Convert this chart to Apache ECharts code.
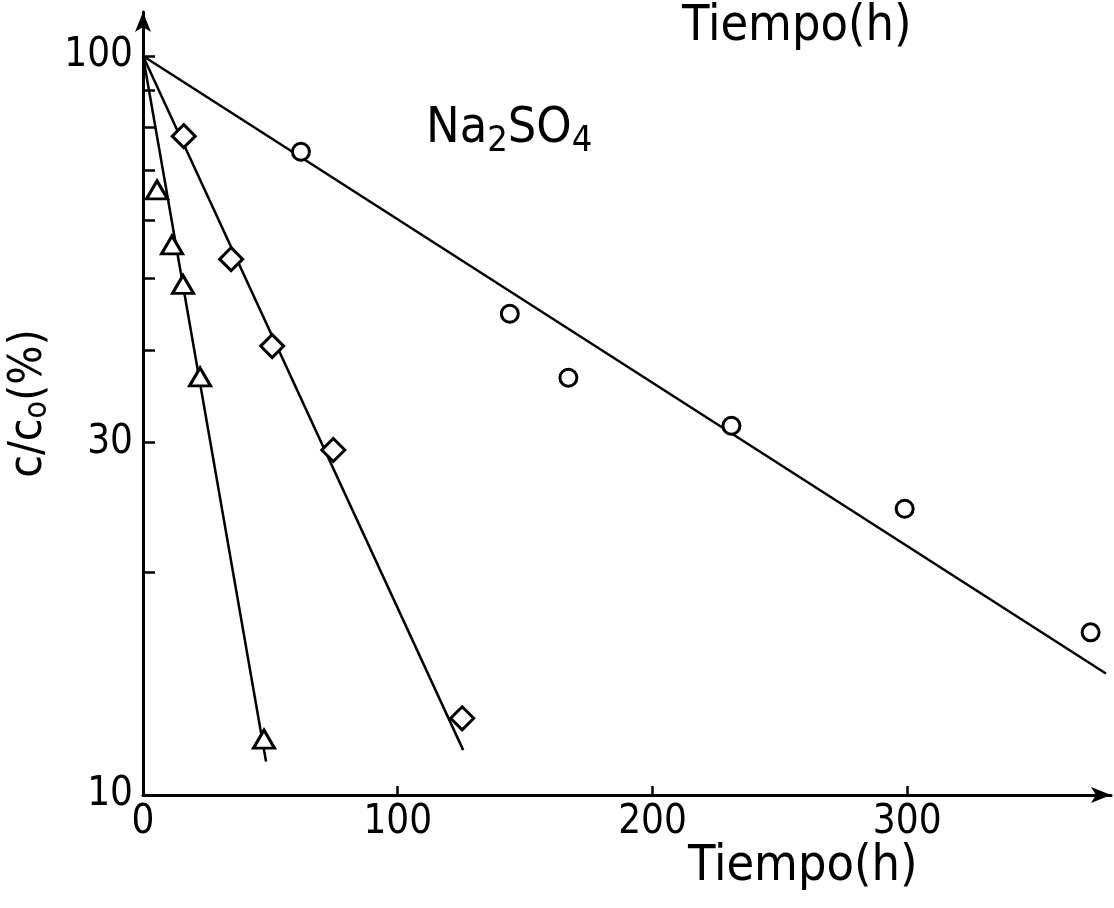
<!DOCTYPE html>
<html>
<head>
<meta charset="utf-8">
<script src="https://cdn.jsdelivr.net/npm/echarts@6/dist/echarts.min.js"></script>
<style>
html,body{margin:0;padding:0;background:#fff;}
#chart{width:1114px;height:908px;}
</style>
</head>
<body>
<div id="chart"></div>
<script>
// ---- data ----
const circleTime = [62, 144, 167, 231, 299, 372];
const circleConc = [74.2, 44.8, 36.7, 31.6, 24.4, 16.6];
const diamondTime = [16, 34.6, 50.7, 74.7, 125.3];
const diamondConc = [77.9, 53.1, 40.5, 29.3, 12.7];
const triangleTime = [5.5, 11.4, 15.7, 22.4, 47.5];
const triangleConc = [65.9, 55.5, 49.1, 36.8, 11.9];
const circleFit = [[0, 100], [378, 14.6]];
const diamondFit = [[0, 100], [125.7, 11.5]];
const triangleFit = [[0, 100], [48.3, 11.1]];
const xTickValues = [100, 200, 300];
const xLabelValues = [0, 100, 200, 300];
const yTickValues = [10, 20, 30, 40, 50, 60, 70, 80, 90, 100];
const yLabelValues = [10, 30, 100];

const FONT = "'DejaVu Sans Condensed', 'Liberation Sans', sans-serif";
const zip = (a, b) => a.map((v, i) => [v, b[i]]);

const chart = echarts.init(document.getElementById('chart'));
const fitLine = (d) => ({
  type: 'line', data: d, symbol: 'none', silent: true,
  lineStyle: { color: '#000', width: 2.5 }, z: 2
});
const markerStyle = { color: '#fff', borderColor: '#000', borderWidth: 3, opacity: 1 };

chart.setOption({
  animation: false,
  backgroundColor: '#fff',
  grid: { left: 143, right: 3, top: 12, bottom: 113, containLabel: false, outerBoundsMode: 'none' },
  xAxis: {
    type: 'value', min: 0, max: 380,
    axisLine: { lineStyle: { color: '#000', width: 3 }, symbol: ['none', 'arrow'], symbolSize: [12, 20] },
    axisTick: { inside: true, length: 9, lineStyle: { color: '#000', width: 2.5 }, customValues: xTickValues },
    axisLabel: { customValues: xLabelValues, color: '#000', fontFamily: FONT, fontSize: 40, margin: 8 },
    splitLine: { show: false }
  },
  yAxis: {
    type: 'log', logBase: 10, min: 10, max: 114.7,
    axisLine: { lineStyle: { color: '#000', width: 3 }, symbol: ['none', 'arrow'], symbolSize: [12, 20] },
    axisTick: { inside: true, length: 12, lineStyle: { color: '#000', width: 2.5 }, customValues: yTickValues },
    axisLabel: { customValues: yLabelValues, color: '#000', fontFamily: FONT, fontSize: 40, margin: 10 },
    splitLine: { show: false },
    minorTick: { show: false },
    name: '{n|c/c}{s|o}{n|(%)}',
    nameLocation: 'middle', nameGap: 88, nameRotate: 90,
    nameTextStyle: {
      rich: {
        n: { fontFamily: FONT, fontSize: 46, color: '#000' },
        s: { fontFamily: FONT, fontSize: 32, color: '#000', padding: [16, 0, 0, 0] }
      }
    }
  },
  graphic: [
    { type: 'text', left: 688, top: 842, style: { text: 'Tiempo(h)', font: "50px " + FONT, fill: '#000' } },
    { type: 'text', left: 682, top: 2, style: { text: 'Tiempo(h)', font: "50px " + FONT, fill: '#000' } },
    { type: 'text', left: 426, top: 104, style: {
        text: '{n|Na}{s|2}{n|SO}{s|4}',
        rich: {
          n: { fontFamily: FONT, fontSize: 50, fill: '#000', color: '#000' },
          s: { fontFamily: FONT, fontSize: 36, fill: '#000', color: '#000', padding: [26, 0, 0, 0] }
        }
    } }
  ],
  series: [
    fitLine(circleFit),
    fitLine(diamondFit),
    fitLine(triangleFit),
    { type: 'scatter', data: zip(circleTime, circleConc), symbol: 'circle', symbolSize: 17, itemStyle: markerStyle, z: 3 },
    { type: 'scatter', data: zip(diamondTime, diamondConc), symbol: 'diamond', symbolSize: 23, itemStyle: markerStyle, z: 3 },
    { type: 'scatter', data: zip(triangleTime, triangleConc), symbol: 'triangle', symbolSize: [21, 18], itemStyle: markerStyle, z: 3 }
  ]
});
</script>
</body>
</html>
